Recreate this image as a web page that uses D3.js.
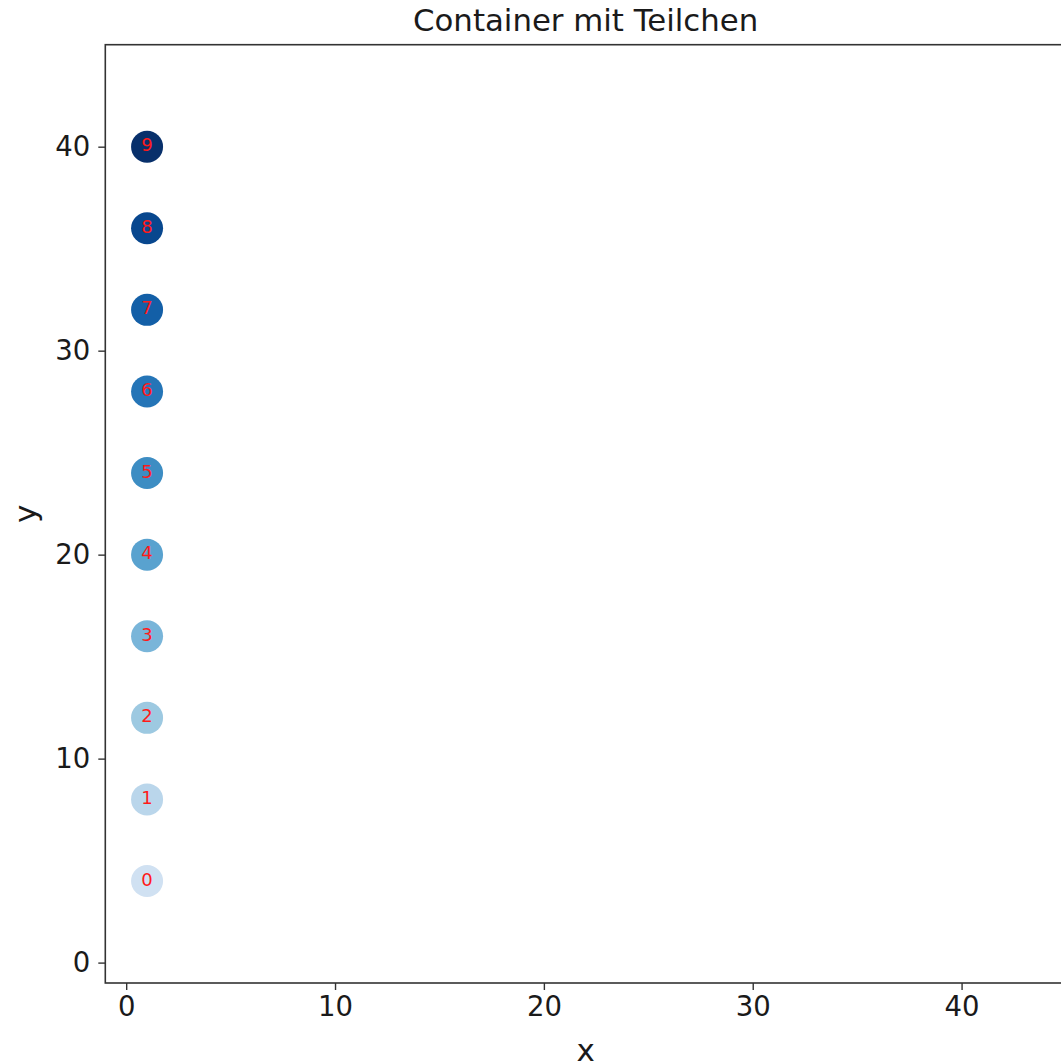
<!DOCTYPE html>
<html>
<head>
<meta charset="utf-8">
<script src="https://cdn.jsdelivr.net/npm/d3@7"></script>
<style>
  html, body { margin: 0; padding: 0; background: #fff; overflow: hidden; }
  svg { display: block; font-family: "DejaVu Sans", sans-serif; }
</style>
</head>
<body>
<svg id="chart" width="1061" height="1064"></svg>
<script>
// Particles in the container: index, x and y position
const particleIds = [0, 1, 2, 3, 4, 5, 6, 7, 8, 9];
const particleX = [1, 1, 1, 1, 1, 1, 1, 1, 1, 1];
const particleY = [4, 8, 12, 16, 20, 24, 28, 32, 36, 40];

// Axis limits and ticks
const xLimits = [-1, 45];
const yLimits = [-1, 45];
const xTicks = [0, 10, 20, 30, 40];
const yTicks = [0, 10, 20, 30, 40];

const titleText = "Container mit Teilchen";
const xLabel = "x";
const yLabel = "y";

const svg = d3.select("#chart");

// Plot area (the right edge lies just past the window)
const plot = { left: 105.3, top: 44.7, right: 1066, bottom: 983 };

const x = d3.scaleLinear().domain(xLimits).range([plot.left, plot.right]);
const y = d3.scaleLinear().domain(yLimits).range([plot.bottom, plot.top]);

// "Blues" colour ramp
const bluesStops = ["#f7fbff", "#deebf7", "#c6dbef", "#9ecae1", "#6baed6",
                    "#4292c6", "#2171b5", "#08519c", "#08306b"];
const blues = d3.scaleLinear()
  .domain(d3.range(bluesStops.length).map(i => i / (bluesStops.length - 1)))
  .range(bluesStops)
  .interpolate(d3.interpolateRgb);
const colorNorm = d3.scaleLinear().domain([-2.25, 9]).range([0, 1]);

// Axes
const tickFont = 27.5;
const xAxis = d3.axisBottom(x).tickValues(xTicks).tickSize(7).tickPadding(6)
  .tickFormat(d3.format("d"));
const yAxis = d3.axisLeft(y).tickValues(yTicks).tickSize(7).tickPadding(8)
  .tickFormat(d3.format("d"));

const gx = svg.append("g").attr("transform", `translate(0,${plot.bottom})`).call(xAxis);
const gy = svg.append("g").attr("transform", `translate(${plot.left},0)`).call(yAxis);
[gx, gy].forEach(g => {
  g.select(".domain").remove();
  g.selectAll(".tick line").attr("stroke", "#333").attr("stroke-width", 1.4);
  g.selectAll(".tick text").attr("fill", "#1a1a1a")
    .style("font-family", "'DejaVu Sans', sans-serif")
    .style("font-size", tickFont + "px");
});

// Frame
svg.append("rect")
  .attr("x", plot.left).attr("y", plot.top)
  .attr("width", plot.right - plot.left).attr("height", plot.bottom - plot.top)
  .attr("fill", "none").attr("stroke", "#333").attr("stroke-width", 1.6);

// Particles
const particles = particleIds.map((id, i) => ({ id, x: particleX[i], y: particleY[i] }));

svg.append("g").selectAll("circle")
  .data(particles).join("circle")
  .attr("cx", d => x(d.x))
  .attr("cy", d => y(d.y))
  .attr("r", 16)
  .attr("fill", d => blues(colorNorm(d.id)));

svg.append("g").selectAll("text")
  .data(particles).join("text")
  .attr("x", d => x(d.x))
  .attr("y", d => y(d.y) - 2)
  .attr("text-anchor", "middle")
  .attr("dominant-baseline", "central")
  .attr("fill", "#ff1a1a")
  .style("font-size", "18px")
  .text(d => d.id);

// Title and axis labels
svg.append("text")
  .attr("x", (plot.left + plot.right) / 2)
  .attr("y", 31)
  .attr("text-anchor", "middle")
  .attr("fill", "#1a1a1a")
  .style("font-size", "30.8px")
  .text(titleText);

svg.append("text")
  .attr("x", (plot.left + plot.right) / 2)
  .attr("y", 1061)
  .attr("text-anchor", "middle")
  .attr("fill", "#1a1a1a")
  .style("font-size", "31px")
  .text(xLabel);

svg.append("text")
  .attr("transform", `translate(36,${(plot.top + plot.bottom) / 2}) rotate(-90)`)
  .attr("text-anchor", "middle")
  .attr("fill", "#1a1a1a")
  .style("font-size", "31px")
  .text(yLabel);
</script>
</body>
</html>
